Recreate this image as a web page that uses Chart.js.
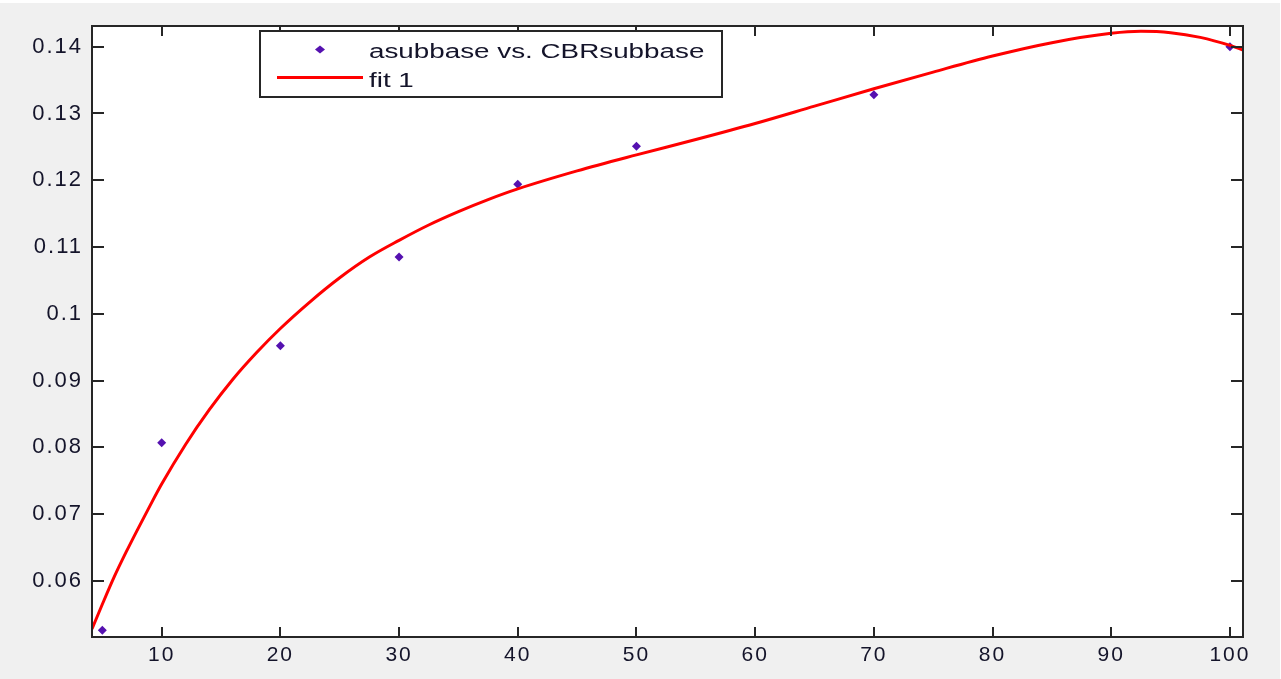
<!DOCTYPE html>
<html>
<head>
<meta charset="utf-8">
<title>asubbase vs. CBRsubbase</title>
<script src="https://cdn.jsdelivr.net/npm/chart.js@4/dist/chart.umd.min.js"></script>
<style>
  html, body { margin: 0; padding: 0; background: #ffffff; }
  canvas { display: block; }
</style>
</head>
<body>
<canvas id="plot" width="1281" height="679"></canvas>
<script>
// Measured data: subbase coefficient against subbase CBR
const cbrSubbase = [5, 10, 20, 30, 40, 50, 70, 100];
const aSubbase   = [0.0526, 0.0807, 0.0952, 0.1085, 0.1194, 0.1251, 0.1328, 0.1400];

// Fitted curve ("fit 1") sampled along the CBR axis
const fitCbr = [4.13, 5, 6, 7, 8, 9, 10, 12, 14, 16, 18, 20, 22.5, 25, 27.5, 30, 32.5, 35, 37.5, 40,
                45, 50, 55, 60, 65, 70, 75, 80, 85, 90, 92.5, 95, 97.5, 100, 101.1];
const fitA   = [0.0528, 0.0565, 0.0606, 0.0643, 0.0678, 0.0712, 0.0745, 0.0804, 0.0856, 0.0902,
                0.0942, 0.0978, 0.1018, 0.1054, 0.1085, 0.1110, 0.1133, 0.1153, 0.1171, 0.1187,
                0.1214, 0.1238, 0.1261, 0.1285, 0.1311, 0.1337, 0.1362, 0.1386, 0.1406, 0.1420,
                0.1423, 0.1421, 0.1414, 0.1402, 0.1395];

// Axis limits and tick marks
const xLimits = [4.13, 101.1];
const yLimits = [0.0516, 0.1431];
const xTicks = [10, 20, 30, 40, 50, 60, 70, 80, 90, 100];
const yTicks = [0.06, 0.07, 0.08, 0.09, 0.1, 0.11, 0.12, 0.13, 0.14];

const seriesNames = ['asubbase vs. CBRsubbase', 'fit 1'];
const markerColor = '#5511b0';
const fitColor = '#ff0000';
const axisColor = '#262626';
const labelColor = '#14142a';
const fontFamily = '"Liberation Sans", Arial, sans-serif';
const tickSpacing = '2px';

// Figure background and white axes area
const backdrop = {
  id: 'backdrop',
  beforeUpdate(chart) { chart.ctx.letterSpacing = tickSpacing; },
  beforeDraw(chart) {
    const { ctx, chartArea: a, width, height } = chart;
    ctx.save();
    ctx.fillStyle = '#ffffff';
    ctx.fillRect(0, 0, width, height);
    ctx.fillStyle = '#f0f0f0';
    ctx.fillRect(0, 3, width - 1, height - 3);
    ctx.fillStyle = '#ffffff';
    ctx.fillRect(a.left, a.top, a.right - a.left, a.bottom - a.top);
    ctx.restore();
    ctx.letterSpacing = tickSpacing;
  }
};

function diamond(ctx, cx, cy, rx, ry) {
  ctx.beginPath();
  ctx.moveTo(cx, cy - ry);
  ctx.lineTo(cx + rx, cy);
  ctx.lineTo(cx, cy + ry);
  ctx.lineTo(cx - rx, cy);
  ctx.closePath();
  ctx.fill();
}

// Boxed axes with inward tick marks on all four sides, plus the key
const boxAndKey = {
  id: 'boxAndKey',
  afterDraw(chart) {
    const { ctx, chartArea: a, scales: { x, y } } = chart;
    ctx.save();
    ctx.letterSpacing = '0px';
    ctx.strokeStyle = axisColor;
    ctx.lineWidth = 2;
    ctx.beginPath();
    xTicks.forEach(v => {
      const p = Math.round(x.getPixelForValue(v));
      ctx.moveTo(p, a.bottom); ctx.lineTo(p, a.bottom - 10);
      ctx.moveTo(p, a.top);    ctx.lineTo(p, a.top + 10);
    });
    yTicks.forEach(v => {
      const p = Math.round(y.getPixelForValue(v));
      ctx.moveTo(a.left, p);  ctx.lineTo(a.left + 12, p);
      ctx.moveTo(a.right, p); ctx.lineTo(a.right - 12, p);
    });
    ctx.stroke();
    ctx.strokeRect(a.left, a.top, a.right - a.left, a.bottom - a.top);

    // key box
    const bx = a.left + 168, by = a.top + 5, bw = 462, bh = 66;
    ctx.fillStyle = '#ffffff';
    ctx.fillRect(bx, by, bw, bh);
    ctx.lineWidth = 2;
    ctx.strokeStyle = axisColor;
    ctx.strokeRect(bx, by, bw, bh);

    const ds = chart.data.datasets;
    // row 1: marker sample
    ctx.fillStyle = ds[0].backgroundColor;
    diamond(ctx, bx + 60, by + 18.5, 5, 4);
    // row 2: line sample
    ctx.strokeStyle = ds[1].borderColor;
    ctx.lineWidth = 3;
    ctx.beginPath();
    ctx.moveTo(bx + 17, by + 46.5);
    ctx.lineTo(bx + 103, by + 46.5);
    ctx.stroke();

    ctx.fillStyle = labelColor;
    ctx.font = '20px ' + fontFamily;
    ctx.textBaseline = 'alphabetic';
    ctx.textAlign = 'left';
    [[ds[0].label, by + 26.5], [ds[1].label, by + 56]].forEach(([txt, base]) => {
      ctx.save();
      ctx.translate(bx + 109, base);
      ctx.scale(1.39, 1);
      ctx.fillText(txt, 0, 0);
      ctx.restore();
    });
    ctx.restore();
  }
};

new Chart(document.getElementById('plot'), {
  type: 'scatter',
  data: {
    datasets: [
      {
        label: seriesNames[0],
        data: cbrSubbase.map((c, i) => ({ x: c, y: aSubbase[i] })),
        showLine: false,
        pointStyle: 'rectRot',
        pointRadius: 4.5,
        pointBorderWidth: 0,
        backgroundColor: markerColor,
        borderColor: markerColor,
        order: 2
      },
      {
        label: seriesNames[1],
        data: fitCbr.map((c, i) => ({ x: c, y: fitA[i] })),
        showLine: true,
        borderColor: fitColor,
        backgroundColor: fitColor,
        borderWidth: 3,
        pointRadius: 0,
        cubicInterpolationMode: 'monotone',
        order: 1
      }
    ]
  },
  options: {
    responsive: false,
    animation: false,
    devicePixelRatio: 1,
    layout: { padding: { top: 26, right: 38, left: 0, bottom: 0 } },
    plugins: { legend: { display: false }, tooltip: { enabled: false } },
    scales: {
      x: {
        type: 'linear',
        min: xLimits[0], max: xLimits[1],
        grid: { display: false, drawTicks: false },
        border: { display: false },
        afterBuildTicks: s => { s.ticks = xTicks.map(v => ({ value: v })); },
        afterFit: s => { s.height = 42; },
        ticks: {
          autoSkip: false, maxRotation: 0, padding: 6,
          color: labelColor,
          font: { family: fontFamily, size: 21 },
          callback: v => String(v)
        }
      },
      y: {
        type: 'linear',
        min: yLimits[0], max: yLimits[1],
        grid: { display: false, drawTicks: false },
        border: { display: false },
        afterBuildTicks: s => { s.ticks = yTicks.map(v => ({ value: v })); },
        afterFit: s => { s.width = 92; },
        ticks: {
          autoSkip: false, padding: 9,
          color: labelColor,
          font: { family: fontFamily, size: 22 },
          callback: v => String(v)
        }
      }
    }
  },
  plugins: [backdrop, boxAndKey]
});
</script>
</body>
</html>
